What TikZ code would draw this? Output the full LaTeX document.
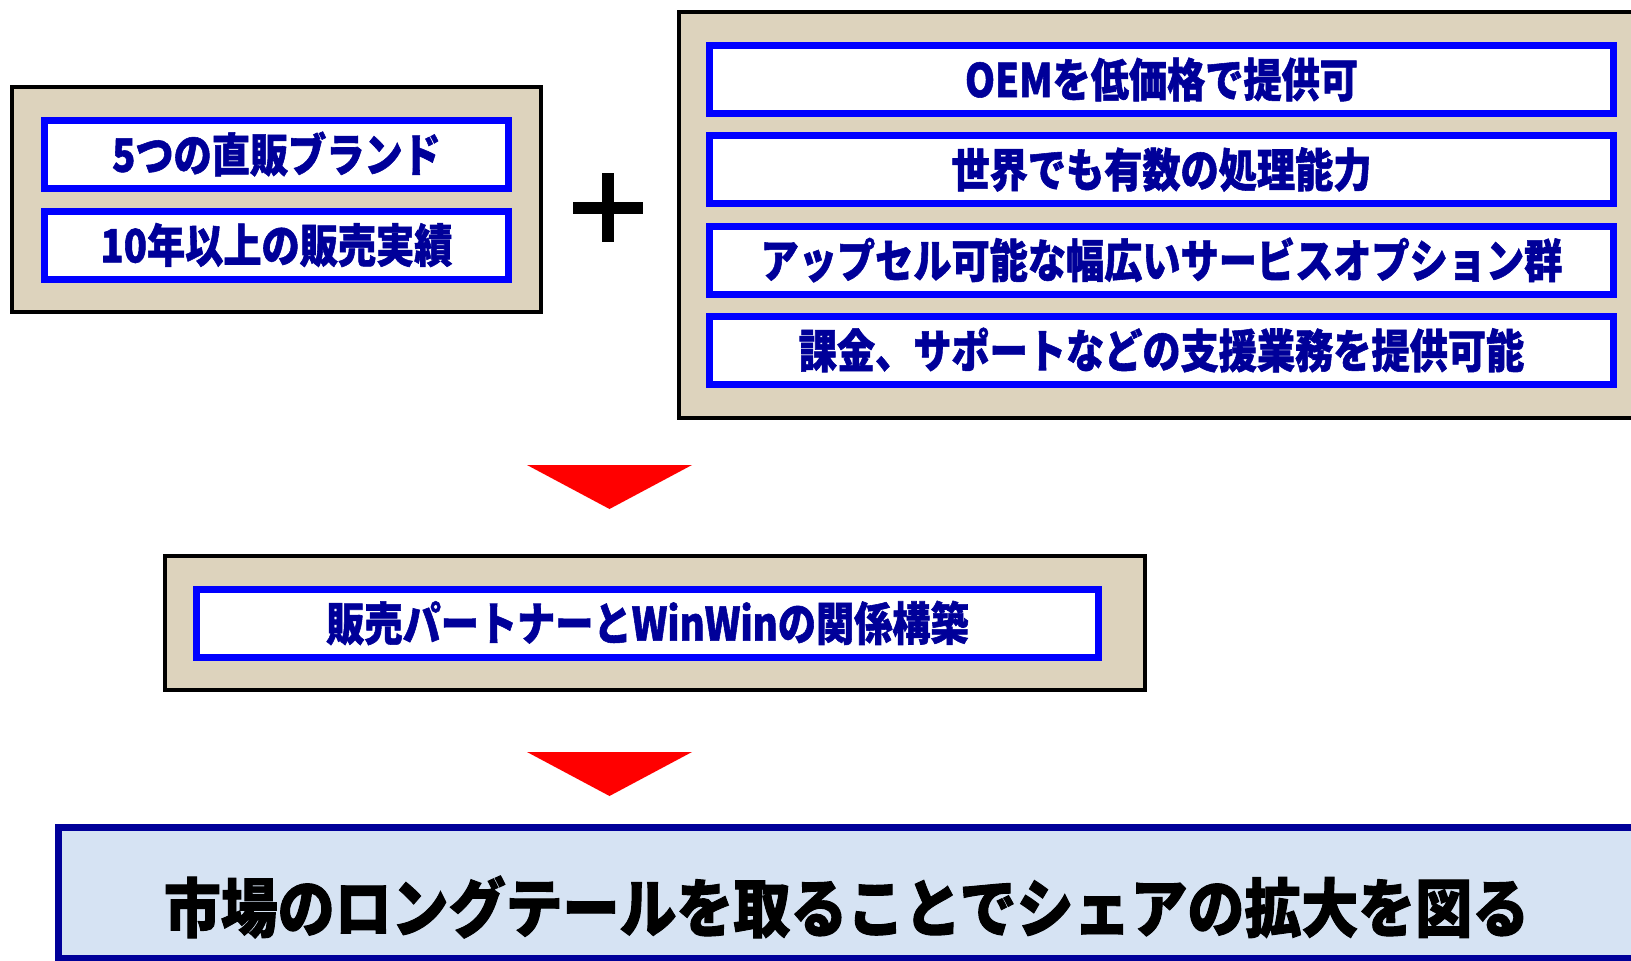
\documentclass[tikz,border=0pt]{standalone}
\usepackage{fontspec}
\newfontfamily\jpfont[FakeStretch=0.83, BoldFeatures={FakeBold=1.2}]{Noto Sans CJK JP}
\newfontfamily\jpbig[FakeStretch=0.89, BoldFeatures={FakeBold=1.5}]{Noto Sans CJK JP}
\definecolor{linen}{RGB}{221,211,189}
\definecolor{navytext}{RGB}{0,0,153}
\definecolor{pureblue}{RGB}{0,0,255}
\definecolor{paleblue}{RGB}{214,227,243}
\begin{document}
\begin{tikzpicture}[x=1pt, y=-1pt]
  \tikzstyle{panel}=[rectangle, draw=black, line width=4pt, fill=linen, inner sep=0pt]
  \tikzstyle{item}=[rectangle, draw=pureblue, line width=7pt, fill=white, inner sep=0pt,
                    minimum height=68pt, text=navytext,
                    font=\jpfont\bfseries\fontsize{46pt}{46pt}\selectfont]
  \tikzstyle{down}=[fill=red]

  \useasboundingbox (0,0) rectangle (1631,961);

  % top left panel
  \node[panel, minimum width=529pt, minimum height=225pt] (pl) at (276.5, 199.5) {};
  \node[item, minimum width=464pt] (l1) at (276.5, 154) {5つの直販ブランド};
  \node[item, minimum width=464pt] (l2) at (276.5, 245) {10年以上の販売実績};

  % plus
  \coordinate (plus) at (608, 207.5);
  \fill ([xshift=-35pt, yshift=-6pt]plus) rectangle ([xshift=35pt, yshift=6pt]plus);
  \fill ([xshift=-6pt, yshift=-34.5pt]plus) rectangle ([xshift=6pt, yshift=34.5pt]plus);

  % top right panel
  \node[panel, minimum width=959pt, minimum height=406pt] (pr) at (1158.5, 215) {};
  \node[item, minimum width=904pt] (r1) at (1161.5, 79.5)  {OEMを低価格で提供可};
  \node[item, minimum width=904pt] (r2) at (1161.5, 169.5) {世界でも有数の処理能力};
  \node[item, minimum width=904pt] (r3) at (1161.5, 260)   {アップセル可能な幅広いサービスオプション群};
  \node[item, minimum width=904pt] (r4) at (1161.5, 350)   {課金、サポートなどの支援業務を提供可能};

  \fill[down] (527,465) -- (692,465) -- (609.5,509) -- cycle;

  % middle panel
  \node[panel, minimum width=980pt, minimum height=134pt] (pm) at (655, 623) {};
  \node[item, minimum width=902pt] (m1) at (647.5, 623) {販売パートナーとWinWinの関係構築};

  \fill[down] (527,752) -- (692,752) -- (609.5,796) -- cycle;

  % bottom result
  \node[rectangle, draw=navytext, line width=7pt, fill=paleblue, inner sep=0pt,
        minimum width=1579pt, minimum height=131pt] (res) at (847.5, 893) {};
  \node[inner sep=0pt, font=\jpbig\bfseries\fontsize{64pt}{64pt}\selectfont] (goal) at (846.5, 907)
    {市場のロングテールを取ることでシェアの拡大を図る};
\end{tikzpicture}
\end{document}
